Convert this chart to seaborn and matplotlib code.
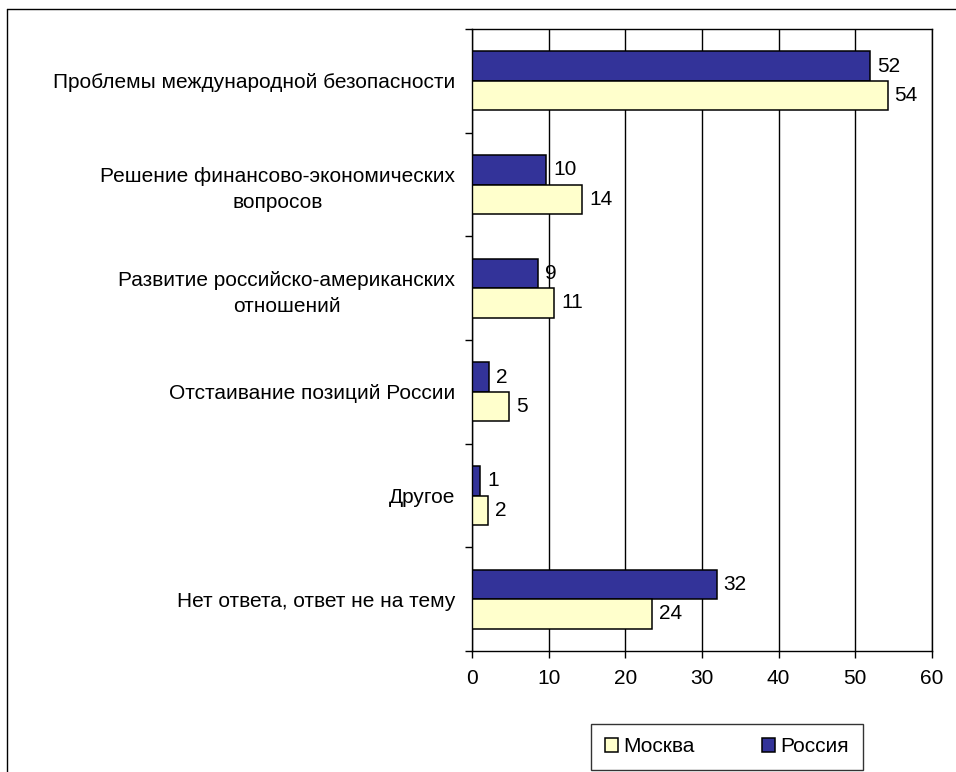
import matplotlib
matplotlib.use("Agg")
import matplotlib.pyplot as plt
import seaborn as sns
import pandas as pd
from matplotlib.patches import Patch
from matplotlib.lines import Line2D

# --- DATOS ---
categories = [
    "Проблемы международной безопасности",
    "Решение финансово-экономических\nвопросов",
    "Развитие российско-американских\nотношений",
    "Отстаивание позиций России",
    "Другое",
    "Нет ответа, ответ не на тему",
]
russia = [51.9, 9.7, 8.6, 2.2, 1.1, 31.9]
moscow = [54.2, 14.4, 10.7, 4.8, 2.1, 23.5]
groups = ["Россия", "Москва"]
colors = {"Россия": "#333399", "Москва": "#FFFFCC"}

df = pd.DataFrame({
    "cat": categories * 2,
    "value": russia + moscow,
    "group": [groups[0]] * len(categories) + [groups[1]] * len(categories),
})

sns.set_style("white")
plt.rcParams["font.family"] = ["Liberation Sans", "DejaVu Sans"]
for k in ["text.color", "xtick.color", "ytick.color", "axes.labelcolor"]:
    plt.rcParams[k] = "black"
FS = 15

fig = plt.figure(figsize=(9.56, 7.72), dpi=100)
ax = fig.add_axes([472 / 956, 1 - 651 / 772, 460 / 956, 622 / 772])

sns.barplot(data=df, y="cat", x="value", hue="group", hue_order=groups,
            palette=colors, orient="h", width=0.57, gap=0,
            edgecolor="black", linewidth=1.1, saturation=1, legend=False, ax=ax)

for cont in ax.containers:
    ax.bar_label(cont, fmt="{:.0f}", padding=5, fontsize=FS)

ax.set_xlim(0, 60)
ax.set_ylim(len(categories) - 0.5, -0.5)
ax.set_xticks(range(0, 61, 10))
ax.xaxis.grid(True, color="black", linewidth=1)
ax.set_axisbelow(True)
ax.set_xlabel("")
ax.set_ylabel("")

for s in ax.spines.values():
    s.set_visible(True)
    s.set_color("black")
    s.set_linewidth(1)

ax.tick_params(axis="x", direction="out", length=5, width=1, color="black",
               labelsize=FS, pad=8, bottom=True)
ax.tick_params(axis="y", which="major", length=0, labelsize=FS, pad=12)
ax.set_yticks([i + 0.5 for i in range(-1, len(categories))], minor=True)
ax.tick_params(axis="y", which="minor", direction="out", length=5, width=1,
               color="black", left=True)
for lbl in ax.get_yticklabels():
    lbl.set_multialignment("center")
    lbl.set_linespacing(1.45)

# --- LEYENDA ---
handles = [Patch(facecolor=colors["Москва"], edgecolor="black", linewidth=1.1),
           Patch(facecolor=colors["Россия"], edgecolor="black", linewidth=1.1)]
leg = fig.legend(handles, ["Москва", "Россия"], ncol=2, loc="center",
                 bbox_to_anchor=(727 / 956, 1 - 747 / 772), fontsize=FS,
                 frameon=True, fancybox=False, edgecolor="black",
                 handlelength=0.65, handleheight=0.65, handletextpad=0.25,
                 columnspacing=3.2, borderpad=0.65, borderaxespad=0)
leg.get_frame().set_linewidth(1)

# --- MARCO EXTERIOR ---
fig.add_artist(Line2D([7 / 956, 7 / 956], [0, 1 - 9 / 772], color="black",
                      linewidth=1, transform=fig.transFigure))
fig.add_artist(Line2D([7 / 956, 1], [1 - 9 / 772, 1 - 9 / 772], color="black",
                      linewidth=1, transform=fig.transFigure))

fig.savefig("out.png", dpi=100)
